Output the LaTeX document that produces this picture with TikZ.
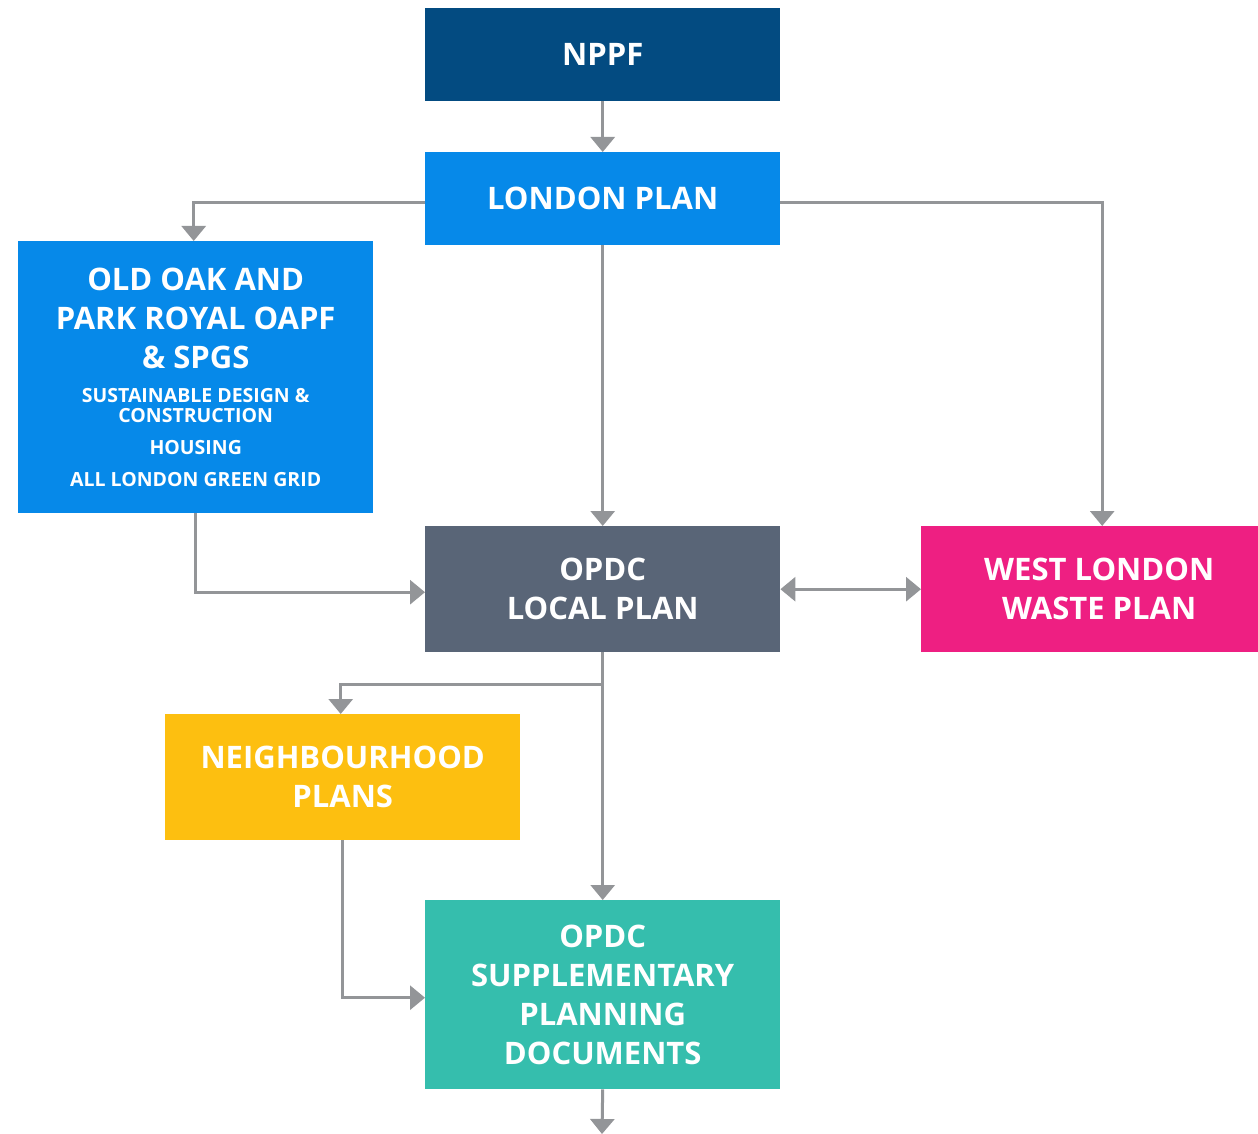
\documentclass[tikz,border=0pt]{standalone}
\usepackage{fontspec}
\setmainfont{Open Sans}
\usetikzlibrary{arrows.meta,positioning,calc}
\definecolor{cnppf}{HTML}{034B81}
\definecolor{cblue}{HTML}{0689E9}
\definecolor{cslate}{HTML}{596577}
\definecolor{cpink}{HTML}{EE1F82}
\definecolor{cyellow}{HTML}{FDBF10}
\definecolor{cteal}{HTML}{35BEAD}
\definecolor{cgray}{HTML}{939598}
\newcommand\subfnt{\fontsize{19.5}{20}\selectfont}
\begin{document}
\begin{tikzpicture}[x=1pt,y=-1pt,
  box/.style={anchor=north west,inner sep=0pt,align=center,text=white,
    font=\bfseries\fontsize{31}{39}\selectfont},
  conn/.style={draw=cgray,line width=3pt,-{Triangle[width=24pt,length=15pt]}},
  conn2/.style={draw=cgray,line width=3pt,{Triangle[width=24pt,length=15pt]}-{Triangle[width=24pt,length=15pt]}}]
\useasboundingbox (0,0) rectangle (1258,1134);
\node[box,fill=cnppf,minimum width=355pt,minimum height=93pt] (nppf) at (425,8) {NPPF};
\node[box,fill=cblue,minimum width=355pt,minimum height=93pt] (lp) at (425,152) {LONDON PLAN};
\node[box,fill=cblue,minimum width=355pt,minimum height=272pt] (oo) at (18,241)
  {OLD OAK AND\\PARK ROYAL OAPF\\\& SPGS\\[-5.5pt]
   \subfnt SUSTAINABLE DESIGN \&\\[-19pt]\subfnt CONSTRUCTION\\[-7pt]\subfnt HOUSING\\[-7pt]\subfnt ALL LONDON GREEN GRID};
\node[box,fill=cslate,minimum width=355pt,minimum height=126pt] (lop) at (425,526) {OPDC\\LOCAL PLAN};
\node[box,fill=cpink,minimum width=356pt,minimum height=126pt] (wl) at (921,526) {WEST LONDON\\WASTE PLAN};
\node[box,fill=cyellow,minimum width=355pt,minimum height=126pt] (nh) at (165,714) {NEIGHBOURHOOD\\PLANS};
\node[box,fill=cteal,minimum width=355pt,minimum height=189pt] (spd) at (425,900) {OPDC\\SUPPLEMENTARY\\PLANNING\\DOCUMENTS};
\coordinate (end) at (602,1134);
\draw[conn] (nppf.south) -- (lp.north);
\draw[conn] ([yshift=-4pt]lp.west) -| ([xshift=-2pt]oo.north);
\draw[conn] ([yshift=-4pt]lp.east) -| ([xshift=3pt]wl.north);
\draw[conn] (lp.south) -- (lop.north);
\draw[conn] (oo.south) |- ([yshift=-3pt]lop.west);
\draw[conn2] (lop.east) -- (wl.west);
\draw[conn] (lop.south) -- ++(0,32) -| ([xshift=-2pt]nh.north);
\draw[conn] (lop.south) -- (spd.north);
\draw[conn] (nh.south) |- ([yshift=-3pt]spd.west);
\draw[conn] (spd.south) -- (end);
\end{tikzpicture}
\end{document}
